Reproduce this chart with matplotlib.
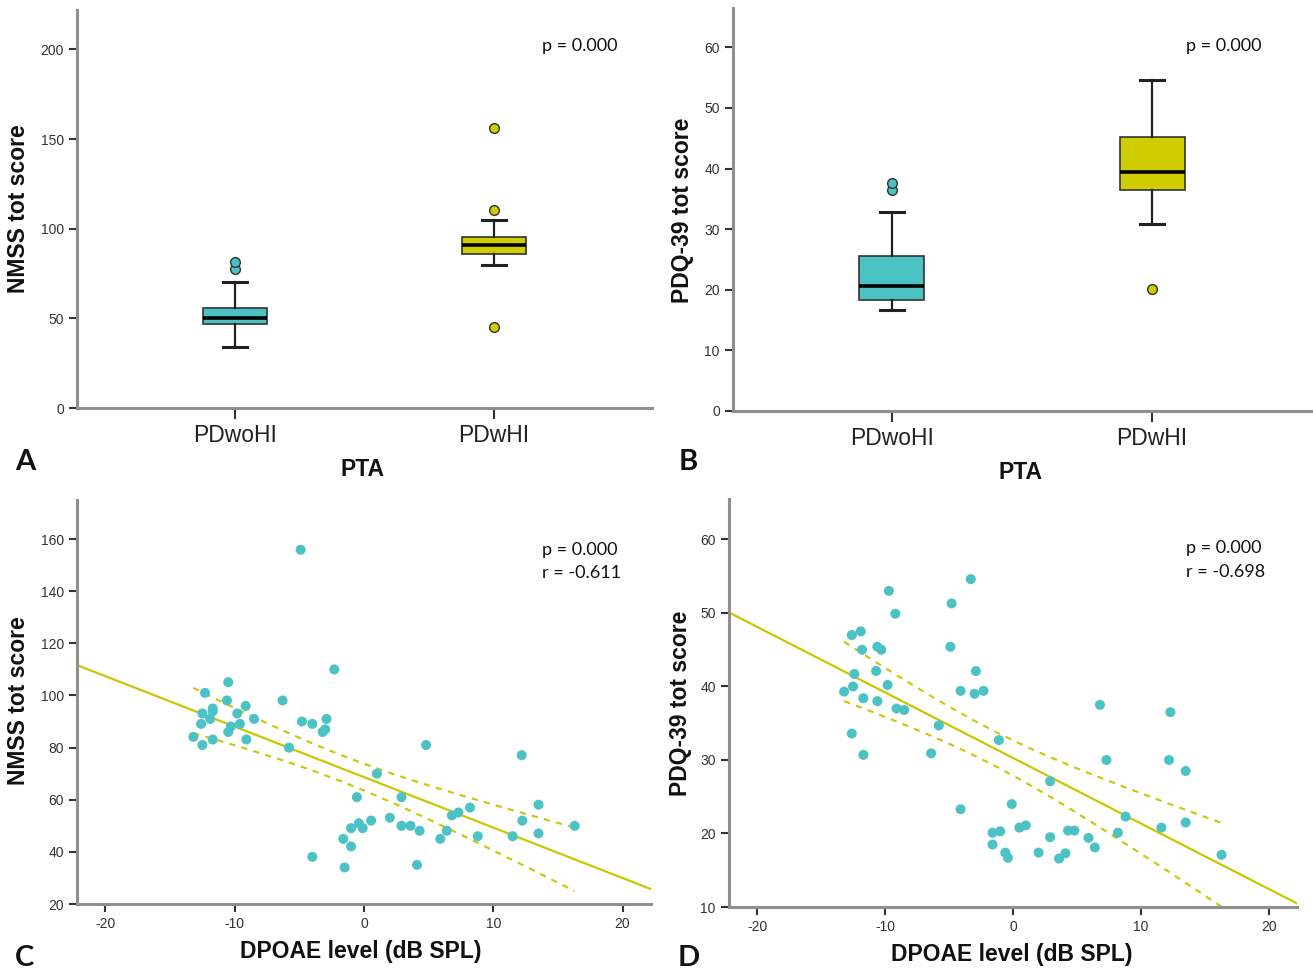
import matplotlib
matplotlib.use("Agg")
import matplotlib.pyplot as plt
import numpy as np

# ---- box plot data ----
groups = ["PDwoHI", "PDwHI"]

# NMSS tot score by PTA group: whislo, q1, med, q3, whishi
nmss_box = [[34, 46.7, 50, 56, 70.3], [80, 86, 91, 95.5, 105]]
nmss_fliers = [[77.3, 81.6], [45, 110.4, 156]]

# PDQ-39 tot score by PTA group
pdq_box = [[16.6, 18.3, 20.6, 25.6, 32.8], [30.8, 36.5, 39.4, 45.2, 54.7]]
pdq_fliers = [[36.5, 37.7], [20.1]]

# ---- scatter data: DPOAE level vs NMSS ----
dpoae_c = [-4.9, -2.3, -10.5, -12.3, -10.6, -6.3, -9.15, -11.7, -11.7, -12.5,
           -9.8, -8.5, -11.9, -2.9, -4.8, -4.0, -12.6, -9.6, -10.3, -10.5,
           -3.0, -3.2, -13.2, -11.7, -9.1, -12.5, -5.8, 4.8, 12.2, 1.0,
           -0.55, 2.9, 8.2, 13.5, 7.3, 6.8, 2.0, 0.55, 12.25, -0.4,
           2.9, 3.6, 16.3, -1.0, -0.1, 4.3, 6.4, 13.5, 8.8, 11.5,
           -1.6, 5.9, -1.0, -4.0, 4.1, -1.5]
nmss_c = [155.9, 110, 105.1, 101, 98.1, 98.1, 96.0, 95, 94, 93.1,
          93.1, 91, 91, 91, 90, 89.1, 89.1, 89.1, 88.1, 86,
          87, 86, 84.1, 83.1, 83.1, 81, 80, 81, 77.1, 70,
          61, 61, 57, 58.1, 55.1, 54, 53.1, 52, 52, 51,
          50, 50, 50, 49.1, 49.1, 48.1, 48.1, 47.1, 46, 46,
          45, 45, 42.1, 38.1, 35, 34]

# ---- scatter data: DPOAE level vs PDQ-39 ----
dpoae_d = [-3.3, -9.7, -4.8, -9.2, -11.9, -12.6, -11.8, -10.6, -10.3, -4.9,
           -10.7, -2.9, -12.4, -9.8, -12.5, -13.2, -4.1, -2.3, -3.0, -11.7,
           -10.6, -9.1, -8.5, 6.8, 12.3, -5.8, -12.6, -1.1, -6.4, -11.7,
           7.3, 12.2, 13.5, 2.9, -0.1, -4.1, 8.8, 13.5, 0.5, 1.0,
           11.6, 4.3, 4.8, -1.6, -1.0, 8.2, 2.9, 5.9, -1.6, 6.4,
           2.0, -0.6, 4.1, 3.6, -0.4, 16.3]
pdq_d = [54.6, 53.0, 51.3, 49.9, 47.5, 47.0, 45.0, 45.4, 45.0, 45.4,
         42.1, 42.1, 41.7, 40.2, 40.0, 39.3, 39.4, 39.4, 39.0, 38.4,
         38.0, 37.0, 36.8, 37.5, 36.5, 34.7, 33.6, 32.7, 30.9, 30.7,
         30.0, 30.0, 28.5, 27.1, 24.0, 23.3, 22.3, 21.5, 20.8, 21.1,
         20.8, 20.4, 20.4, 20.1, 20.3, 20.1, 19.5, 19.4, 18.5, 18.1,
         17.4, 17.4, 17.3, 16.6, 16.7, 17.1]

teal = "#4BC3C5"
yellow = "#CFCC00"
line_col = "#C9C800"
spine_col = "#8f8f8f"
tick_font = ["Liberation Sans", "DejaVu Sans"]
bold_font = ["Liberation Sans", "DejaVu Sans"]
note_font = ["Lato", "DejaVu Sans"]

plt.rcParams["axes.unicode_minus"] = False

W, H = 1313, 971
fig = plt.figure(figsize=(W / 100, H / 100), dpi=100)


def add_ax(l, r, b, t):
    # pixel box -> figure fraction
    return fig.add_axes([l / W, 1 - b / H, (r - l) / W, (b - t) / H])


def style(ax):
    for s in ["top", "right"]:
        ax.spines[s].set_visible(False)
    for s in ["left", "bottom"]:
        ax.spines[s].set_color(spine_col)
        ax.spines[s].set_linewidth(2.2)
    ax.tick_params(direction="out", length=6, width=1.5, color="#333333",
                   labelcolor="#333333")
    for lab in ax.get_yticklabels() + ax.get_xticklabels():
        lab.set_family(tick_font)
        lab.set_fontsize(10)


def box_panel(ax, box, fliers, ylim, yticks):
    stats = []
    for b, f in zip(box, fliers):
        stats.append(dict(whislo=b[0], q1=b[1], med=b[2], q3=b[3], whishi=b[4], fliers=f))
    bp = ax.bxp(stats, positions=[1, 2], widths=0.25, patch_artist=True,
                showfliers=True,
                medianprops=dict(color="black", lw=2.6),
                whiskerprops=dict(color="#222222", lw=1.6),
                capprops=dict(color="#222222", lw=2.2),
                boxprops=dict(edgecolor="#333333", lw=1.2))
    for i, (patch, c) in enumerate(zip(bp["boxes"], [teal, yellow])):
        patch.set_facecolor(c)
        bp["fliers"][i].set(marker="o", markerfacecolor=c, markeredgecolor="#333333",
                            markersize=7, markeredgewidth=1)
    for cap in bp["caps"]:
        m = np.mean(cap.get_xdata())
        cap.set_xdata([m - 0.045, m + 0.045])
    ax.set_xlim(0.39, 2.61)
    ax.set_ylim(*ylim)
    ax.set_yticks(yticks)
    ax.set_xticks([1, 2])
    ax.set_xticklabels(groups)
    style(ax)
    ax.tick_params(axis="x", length=8)
    for lab in ax.get_xticklabels():
        lab.set_fontsize(16.5)
        lab.set_color("#222222")


def scatter_panel(ax, x, y, ylim, yticks):
    x = np.array(x)
    y = np.array(y)
    ax.scatter(x, y, s=52, color=teal, edgecolors="none", zorder=3)
    slope, icpt = np.polyfit(x, y, 1)
    xs = np.linspace(-22.5, 22.5, 50)
    ax.plot(xs, icpt + slope * xs, color=line_col, lw=1.6, zorder=2)
    # 95% confidence band of the mean fit
    n = len(x)
    resid = y - (icpt + slope * x)
    s = np.sqrt(np.sum(resid ** 2) / (n - 2))
    sxx = np.sum((x - x.mean()) ** 2)
    xb = np.linspace(x.min(), x.max(), 50)
    se = s * np.sqrt(1 / n + (xb - x.mean()) ** 2 / sxx)
    yb = icpt + slope * xb
    for sign in (1, -1):
        ax.plot(xb, yb + sign * 2.005 * se, color=line_col, lw=1.5,
                dashes=(3, 3), zorder=2)
    ax.set_xlim(-22.2, 22.2)
    ax.set_ylim(*ylim)
    ax.set_xticks([-20, -10, 0, 10, 20])
    ax.set_yticks(yticks)
    style(ax)


axA = add_ax(77, 652, 408, 10)
box_panel(axA, nmss_box, nmss_fliers, (0, 222), [0, 50, 100, 150, 200])
axB = add_ax(733, 1311, 411, 8)
box_panel(axB, pdq_box, pdq_fliers, (0, 66.5), [0, 10, 20, 30, 40, 50, 60])
axC = add_ax(77, 651, 904, 500)
scatter_panel(axC, dpoae_c, nmss_c, (20, 175), [20, 40, 60, 80, 100, 120, 140, 160])
axD = add_ax(729, 1297, 907, 499)
scatter_panel(axD, dpoae_d, pdq_d, (10, 65.5), [10, 20, 30, 40, 50, 60])


def ftext(x, y, s, **kw):
    fig.text(x / W, 1 - y / H, s, **kw)


lab_kw = dict(fontsize=16.5, fontweight="bold", family=bold_font, color="#111111",
              ha="center", va="center")
ftext(19, 209, "NMSS tot score", rotation=90, **lab_kw)
ftext(683, 210, "PDQ-39 tot score", rotation=90, **lab_kw)
ftext(19, 701, "NMSS tot score", rotation=90, **lab_kw)
ftext(681, 703, "PDQ-39 tot score", rotation=90, **lab_kw)
ftext(363, 470, "PTA", **lab_kw)
ftext(1021, 472, "PTA", **lab_kw)
ftext(361, 951, "DPOAE level (dB SPL)", **lab_kw)
ftext(1012, 954, "DPOAE level (dB SPL)", **lab_kw)

letter_kw = dict(fontsize=21, fontweight="bold", family=note_font, color="#111111",
                 ha="center", va="center")
ftext(25, 462, "A", **letter_kw)
ftext(688, 462, "B", **letter_kw)
ftext(25, 958, "C", **letter_kw)
ftext(689, 958, "D", **letter_kw)

note_kw = dict(fontsize=13, family=note_font, color="#111111", ha="left", va="center")
ftext(542, 46, "p = 0.000", **note_kw)
ftext(1186, 46, "p = 0.000", **note_kw)
ftext(542, 550, "p = 0.000", **note_kw)
ftext(542, 573, "r = -0.611", **note_kw)
ftext(1186, 548, "p = 0.000", **note_kw)
ftext(1186, 572, "r = -0.698", **note_kw)

fig.savefig("out.png", dpi=100)
